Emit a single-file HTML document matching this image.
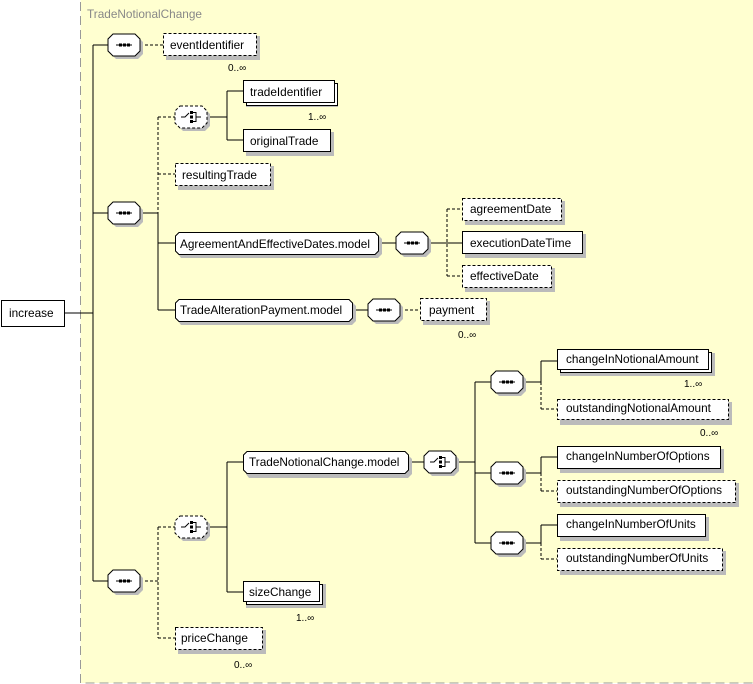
<!DOCTYPE html>
<html><head><meta charset="utf-8"><style>
html,body{margin:0;padding:0;background:#fff}
svg{display:block}
text{font-family:"Liberation Sans","DejaVu Sans",sans-serif;font-size:11.8px;fill:#000}
.t{fill:#888}
.c{font-size:10px}
</style></head><body>
<svg width="753" height="684" viewBox="0 0 753 684" xmlns="http://www.w3.org/2000/svg">
<defs>
<g id="seq">
<path d="M8,3 H30 L35,8 V20 L30,25 H8 L3,20 V8 Z" fill="#bbb"/>
<path d="M5,0 H27 L32,5 V17 L27,22 H5 L0,17 V5 Z" fill="#fff" stroke="#000"/>
<line x1="8" y1="11" x2="24" y2="11" stroke="#000"/>
<rect x="11" y="9.5" width="3" height="3"/><rect x="15" y="9.5" width="3" height="3"/><rect x="19" y="9.5" width="3" height="3"/>
</g>
<g id="choiceicon">
<path d="M6,11 H10 L14,7" fill="none" stroke="#000"/>
<rect x="15" y="5" width="3" height="3"/><rect x="15" y="9.5" width="3" height="3"/><rect x="15" y="14" width="3" height="3"/>
<path d="M18,6.5 H21 V15.5 H18 M21,11 H26" fill="none" stroke="#000"/>
</g>
<g id="choice">
<path d="M8,3 H30 L35,8 V20 L30,25 H8 L3,20 V8 Z" fill="#bbb"/>
<path d="M5,0 H27 L32,5 V17 L27,22 H5 L0,17 V5 Z" fill="#fff" stroke="#000" stroke-dasharray="3,2"/>
<use href="#choiceicon"/>
</g>
<g id="choiceS">
<path d="M8,3 H30 L35,8 V20 L30,25 H8 L3,20 V8 Z" fill="#bbb"/>
<path d="M5,0 H27 L32,5 V17 L27,22 H5 L0,17 V5 Z" fill="#fff" stroke="#000"/>
<use href="#choiceicon"/>
</g>
</defs>
<rect x="80.5" y="-1" width="680" height="684" fill="#ffffd0" stroke="#999" stroke-dasharray="9,5"/>
<text x="87" y="18" class="t">TradeNotionalChange</text>

<g stroke="#000" fill="none">
<line x1="64" y1="313" x2="93" y2="313"/>
<line x1="93" y1="45" x2="93" y2="581"/>
<line x1="93" y1="45" x2="108" y2="45"/><line x1="93" y1="213" x2="108" y2="213"/><line x1="93" y1="581" x2="108" y2="581"/>
<line x1="140" y1="45" x2="163" y2="45" stroke-dasharray="3,2"/>
<line x1="140" y1="213" x2="158" y2="213"/>
<line x1="158" y1="117" x2="158" y2="213" stroke-dasharray="3,2"/>
<line x1="158" y1="117" x2="175" y2="117" stroke-dasharray="3,2"/>
<line x1="158" y1="174" x2="175" y2="174" stroke-dasharray="3,2"/>
<line x1="158" y1="213" x2="158" y2="310"/>
<line x1="158" y1="243" x2="175" y2="243"/><line x1="158" y1="310" x2="175" y2="310"/>
<line x1="207" y1="117" x2="227" y2="117"/><line x1="227" y1="91" x2="227" y2="140"/>
<line x1="227" y1="91" x2="243" y2="91"/><line x1="227" y1="140" x2="243" y2="140"/>
<line x1="378" y1="243" x2="396" y2="243"/><line x1="428" y1="243" x2="462" y2="243"/>
<line x1="447" y1="209" x2="447" y2="276" stroke-dasharray="3,2"/>
<line x1="447" y1="209" x2="462" y2="209" stroke-dasharray="3,2"/><line x1="447" y1="276" x2="462" y2="276" stroke-dasharray="3,2"/>
<line x1="352" y1="310" x2="368" y2="310"/><line x1="400" y1="310" x2="420" y2="310" stroke-dasharray="3,2"/>
<line x1="140" y1="581" x2="158" y2="581" stroke-dasharray="3,2"/>
<line x1="158" y1="527" x2="158" y2="638" stroke-dasharray="3,2"/>
<line x1="158" y1="527" x2="175" y2="527" stroke-dasharray="3,2"/><line x1="158" y1="638" x2="175" y2="638" stroke-dasharray="3,2"/>
<line x1="207" y1="527" x2="227" y2="527"/><line x1="227" y1="462" x2="227" y2="592"/>
<line x1="227" y1="462" x2="243" y2="462"/><line x1="227" y1="592" x2="243" y2="592"/>
<line x1="408" y1="462" x2="424" y2="462"/><line x1="456" y1="462" x2="475" y2="462"/>
<line x1="475" y1="382" x2="475" y2="543"/>
<line x1="475" y1="382" x2="491" y2="382"/><line x1="475" y1="473" x2="491" y2="473"/><line x1="475" y1="543" x2="491" y2="543"/>
<line x1="523" y1="382" x2="541" y2="382"/><line x1="523" y1="473" x2="541" y2="473"/><line x1="523" y1="543" x2="541" y2="543"/>
<line x1="541" y1="361" x2="541" y2="382"/><line x1="541" y1="361" x2="557" y2="361"/>
<line x1="541" y1="382" x2="541" y2="409" stroke-dasharray="3,2"/><line x1="541" y1="409" x2="557" y2="409" stroke-dasharray="3,2"/>
<line x1="541" y1="457" x2="541" y2="473"/><line x1="541" y1="457" x2="557" y2="457"/>
<line x1="541" y1="473" x2="541" y2="491" stroke-dasharray="3,2"/><line x1="541" y1="491" x2="557" y2="491" stroke-dasharray="3,2"/>
<line x1="541" y1="525" x2="541" y2="543"/><line x1="541" y1="525" x2="557" y2="525"/>
<line x1="541" y1="543" x2="541" y2="559" stroke-dasharray="3,2"/><line x1="541" y1="559" x2="557" y2="559" stroke-dasharray="3,2"/>
</g>

<use href="#seq" x="108" y="34"/><use href="#seq" x="108" y="202"/><use href="#seq" x="108" y="570"/>
<use href="#choice" x="175" y="106"/><use href="#seq" x="396" y="232"/><use href="#seq" x="368" y="299"/>
<use href="#choice" x="175" y="516"/>
<use href="#choiceS" x="424" y="451"/>
<use href="#seq" x="491" y="371"/><use href="#seq" x="491" y="462"/><use href="#seq" x="491" y="532"/>

<rect x="1.5" y="300.5" width="63" height="26" fill="#fff" stroke="#000"/>
<text x="9" y="317">increase</text>

<g stroke="#000">
<rect x="166" y="36" width="94" height="24" fill="#bbb" stroke="none"/>
<rect x="163.5" y="33.5" width="93" height="22" fill="#fff" stroke-dasharray="3,2"/>
<rect x="246" y="83" width="92" height="24" fill="#bbb" stroke="none"/>
<rect x="246.5" y="83.5" width="91" height="22" fill="#fff"/>
<rect x="243.5" y="80.5" width="91" height="22" fill="#fff"/>
<rect x="246" y="132" width="88" height="24" fill="#bbb" stroke="none"/>
<rect x="243.5" y="129.5" width="87" height="22" fill="#fff"/>
<rect x="178" y="166" width="96" height="24" fill="#bbb" stroke="none"/>
<rect x="175.5" y="163.5" width="95" height="22" fill="#fff" stroke-dasharray="3,2"/>
<path d="M181,235 H378 L382,239 V254 L378,258 H181 L178,254 V239 Z" fill="#bbb" stroke="none"/>
<path d="M179,232.5 H375 L378.5,236 V251 L375,254.5 H179 L175.5,251 V236 Z" fill="#fff"/>
<path d="M181,302 H352 L356,306 V321 L352,325 H181 L178,321 V306 Z" fill="#bbb" stroke="none"/>
<path d="M179,299.5 H349 L352.5,303 V318 L349,321.5 H179 L175.5,318 V303 Z" fill="#fff"/>
<rect x="465" y="201" width="100" height="24" fill="#bbb" stroke="none"/>
<rect x="462.5" y="198.5" width="99" height="22" fill="#fff" stroke-dasharray="3,2"/>
<rect x="465" y="234" width="121" height="24" fill="#bbb" stroke="none"/>
<rect x="462.5" y="231.5" width="120" height="22" fill="#fff"/>
<rect x="465" y="268" width="90" height="24" fill="#bbb" stroke="none"/>
<rect x="462.5" y="265.5" width="89" height="22" fill="#fff" stroke-dasharray="3,2"/>
<rect x="423" y="301" width="67" height="24" fill="#bbb" stroke="none"/>
<rect x="420.5" y="298.5" width="66" height="22" fill="#fff" stroke-dasharray="3,2"/>
<path d="M249,455 H408 L412,459 V474 L408,478 H249 L246,474 V459 Z" fill="#bbb" stroke="none"/>
<path d="M247,451.5 H405 L408.5,455 V470 L405,473.5 H247 L243.5,470 V455 Z" fill="#fff"/>
<rect x="246" y="584" width="80" height="24" fill="#bbb" stroke="none"/>
<rect x="246.5" y="584.5" width="76" height="20" fill="#fff"/>
<rect x="243.5" y="581.5" width="76" height="20" fill="#fff"/>
<rect x="178" y="630" width="88" height="24" fill="#bbb" stroke="none"/>
<rect x="175.5" y="627.5" width="87" height="22" fill="#fff" stroke-dasharray="3,2"/>
<rect x="560" y="353" width="155" height="23" fill="#bbb" stroke="none"/>
<rect x="560.5" y="352.5" width="151" height="20" fill="#fff"/>
<rect x="557.5" y="349.5" width="151" height="20" fill="#fff"/>
<rect x="560" y="402" width="172" height="23" fill="#bbb" stroke="none"/>
<rect x="557.5" y="399.5" width="171" height="20" fill="#fff" stroke-dasharray="3,2"/>
<rect x="560" y="449" width="164" height="24" fill="#bbb" stroke="none"/>
<rect x="557.5" y="446.5" width="163" height="22" fill="#fff"/>
<rect x="560" y="483" width="179" height="24" fill="#bbb" stroke="none"/>
<rect x="557.5" y="480.5" width="178" height="22" fill="#fff" stroke-dasharray="3,2"/>
<rect x="560" y="517" width="149" height="24" fill="#bbb" stroke="none"/>
<rect x="557.5" y="514.5" width="148" height="22" fill="#fff"/>
<rect x="560" y="551" width="166" height="24" fill="#bbb" stroke="none"/>
<rect x="557.5" y="548.5" width="165" height="22" fill="#fff" stroke-dasharray="3,2"/>
</g>

<text x="170" y="49">eventIdentifier</text>
<text x="228" y="71" class="c">0..∞</text>
<text x="250" y="96">tradeIdentifier</text>
<text x="308" y="120" class="c">1..∞</text>
<text x="250" y="145">originalTrade</text>
<text x="182" y="179">resultingTrade</text>
<text x="180" y="248">AgreementAndEffectiveDates.model</text>
<text x="180" y="314">TradeAlterationPayment.model</text>
<text x="470" y="213">agreementDate</text>
<text x="470" y="247">executionDateTime</text>
<text x="470" y="280">effectiveDate</text>
<text x="429" y="314">payment</text>
<text x="458" y="338" class="c">0..∞</text>
<text x="249" y="466">TradeNotionalChange.model</text>
<text x="249" y="596">sizeChange</text>
<text x="296" y="621" class="c">1..∞</text>
<text x="181" y="642">priceChange</text>
<text x="234" y="668" class="c">0..∞</text>
<text x="566" y="363">changeInNotionalAmount</text>
<text x="684" y="387" class="c">1..∞</text>
<text x="566" y="412">outstandingNotionalAmount</text>
<text x="700" y="436" class="c">0..∞</text>
<text x="566" y="460">changeInNumberOfOptions</text>
<text x="566" y="494">outstandingNumberOfOptions</text>
<text x="566" y="528">changeInNumberOfUnits</text>
<text x="566" y="562">outstandingNumberOfUnits</text>
</svg>
</body></html>
